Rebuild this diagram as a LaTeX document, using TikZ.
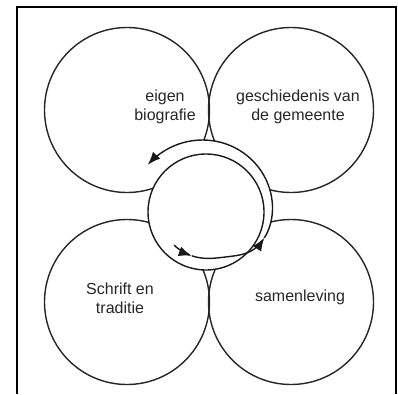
\documentclass[tikz,border=0pt]{standalone}
\usepackage{fontspec}
\setmainfont{Liberation Sans}
\usetikzlibrary{arrows.meta}

\tikzset{
  declare function={spr(\t)=46+19/(1+exp(-(\t-310)/10))+max(0,\t-335)*0.06;},
  bigcircle/.style={draw=black!85, circle, line width=1.4pt, minimum size=165pt, inner sep=0pt},
  circletext/.style={align=center, font=\fontsize{16}{19}\selectfont, text=black!85},
  spiral/.style={draw=black!90, line width=1.4pt},
  spiraltip/.style={-{Latex[length=13pt,width=10pt]}}
}

\begin{document}
\begin{tikzpicture}[x=1pt, y=1pt]
\useasboundingbox (0,0) rectangle (398,394);
% four big circles
\node[bigcircle] (TL) at (127,284) {};
\node[bigcircle] (TR) at (291,284) {};
\node[bigcircle] (BL) at (127,92) {};
\node[bigcircle] (BR) at (291,92) {};
%============
\coordinate (O) at (206,182);
\fill[white, shift={(O)}] plot[domain=335:501, samples=80] (\x:{spr(\x)}) -- (141:58) arc[start angle=141, end angle=335, radius=58] -- cycle;
\draw[spiral] (O) circle[radius=58];
%============
\draw[spiral, spiraltip, shift={(O)}] plot[domain=226:252, samples=10] (\x:{spr(\x)});
\draw[spiral, spiraltip, shift={(O)}] plot[domain=252:336, samples=40] (\x:{spr(\x)});
\draw[spiral, spiraltip, shift={(O)}] plot[domain=336:501, samples=80] (\x:{spr(\x)});
%============
\node[circletext] (bio) at (165,287) {eigen\\biografie};
\node[circletext] (gem) at (298,287) {geschiedenis van\\de gemeente};
\node[circletext] (trad) at (120,96) {Schrift en\\traditie};
\node[circletext] (sam) at (300,97) {samenleving};
% frame
\draw[black, line width=1.6pt] (17,0) -- (17,387) -- (396,387) -- (396,0);
\end{tikzpicture}
\end{document}
